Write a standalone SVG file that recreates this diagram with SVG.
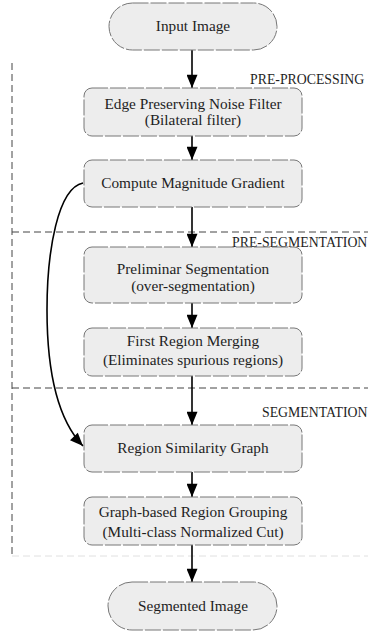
<svg xmlns="http://www.w3.org/2000/svg" width="368" height="632" viewBox="0 0 368 632">
<style>
.box{fill:#ededed;stroke:#777;stroke-width:1;stroke-dasharray:16,2}
.t{font-family:"Liberation Serif","Times New Roman",serif;font-size:15.3px;fill:#1e1e1e;text-anchor:middle}
.lbl{font-family:"Liberation Serif","Times New Roman",serif;font-size:13.8px;fill:#1e1e1e}
.sec{fill:none;stroke:#444;stroke-width:1;stroke-dasharray:7,4}
.edge{fill:none;stroke:#000;stroke-width:1.6}
</style>
<defs>
<marker id="ah2" viewBox="0 0 12 10" refX="12" refY="5" markerWidth="14" markerHeight="11" orient="auto" markerUnits="userSpaceOnUse">
<path d="M0,0 L12,5 L0,10 z" fill="#000"/>
</marker>
</defs>
<g id="sections">
<path class="sec" d="M12,63 V556"/>
<path class="sec" d="M12,232 H368"/>
<path class="sec" d="M12,388 H368"/>
<path d="M12,556 H368" fill="none" stroke="#e0e0e0" stroke-width="1" stroke-dasharray="7,4"/>
<text class="lbl" x="250" y="84">PRE-PROCESSING</text>
<text class="lbl" x="232" y="247">PRE-SEGMENTATION</text>
<text class="lbl" x="262" y="417">SEGMENTATION</text>
</g>
<g id="connectors">
<path class="edge" d="M192,50 V88" marker-end="url(#ah2)"/>
<path class="edge" d="M192,136 V160" marker-end="url(#ah2)"/>
<path class="edge" d="M192,207 V247" marker-end="url(#ah2)"/>
<path class="edge" d="M192,303 V328" marker-end="url(#ah2)"/>
<path class="edge" d="M192,376 V425" marker-end="url(#ah2)"/>
<path class="edge" d="M192,472 V497" marker-end="url(#ah2)"/>
<path class="edge" d="M192,545 V582" marker-end="url(#ah2)"/>
<path class="edge" d="M83,183 C58,188 47,250 47,310 C47,375 58,420 83,446" marker-end="url(#ah2)"/>
</g>
<g id="input">
<rect class="box" x="109" y="3" width="168" height="47" rx="23.5"/>
<text class="t" x="193" y="31">Input Image</text>
</g>
<g id="filter">
<rect class="box" x="84" y="88" width="218" height="48" rx="8"/>
<text class="t" x="193" y="109">Edge Preserving Noise Filter</text>
<text class="t" x="193" y="125">(Bilateral filter)</text>
</g>
<g id="gradient">
<rect class="box" x="84" y="160" width="218" height="47" rx="8"/>
<text class="t" x="193" y="188">Compute Magnitude Gradient</text>
</g>
<g id="prelim">
<rect class="box" x="84" y="247" width="218" height="56" rx="8"/>
<text class="t" x="193" y="274">Preliminar Segmentation</text>
<text class="t" x="193" y="291">(over-segmentation)</text>
</g>
<g id="merging">
<rect class="box" x="84" y="328" width="218" height="48" rx="8"/>
<text class="t" x="193" y="346">First Region Merging</text>
<text class="t" x="193" y="365">(Eliminates spurious regions)</text>
</g>
<g id="similarity">
<rect class="box" x="84" y="425" width="218" height="47" rx="8"/>
<text class="t" x="193" y="453">Region Similarity Graph</text>
</g>
<g id="grouping">
<rect class="box" x="84" y="497" width="218" height="48" rx="8"/>
<text class="t" x="193" y="517">Graph-based Region Grouping</text>
<text class="t" x="193" y="537">(Multi-class Normalized Cut)</text>
</g>
<g id="output">
<rect class="box" x="108" y="582" width="169" height="48" rx="24"/>
<text class="t" x="193" y="611">Segmented Image</text>
</g>
</svg>
